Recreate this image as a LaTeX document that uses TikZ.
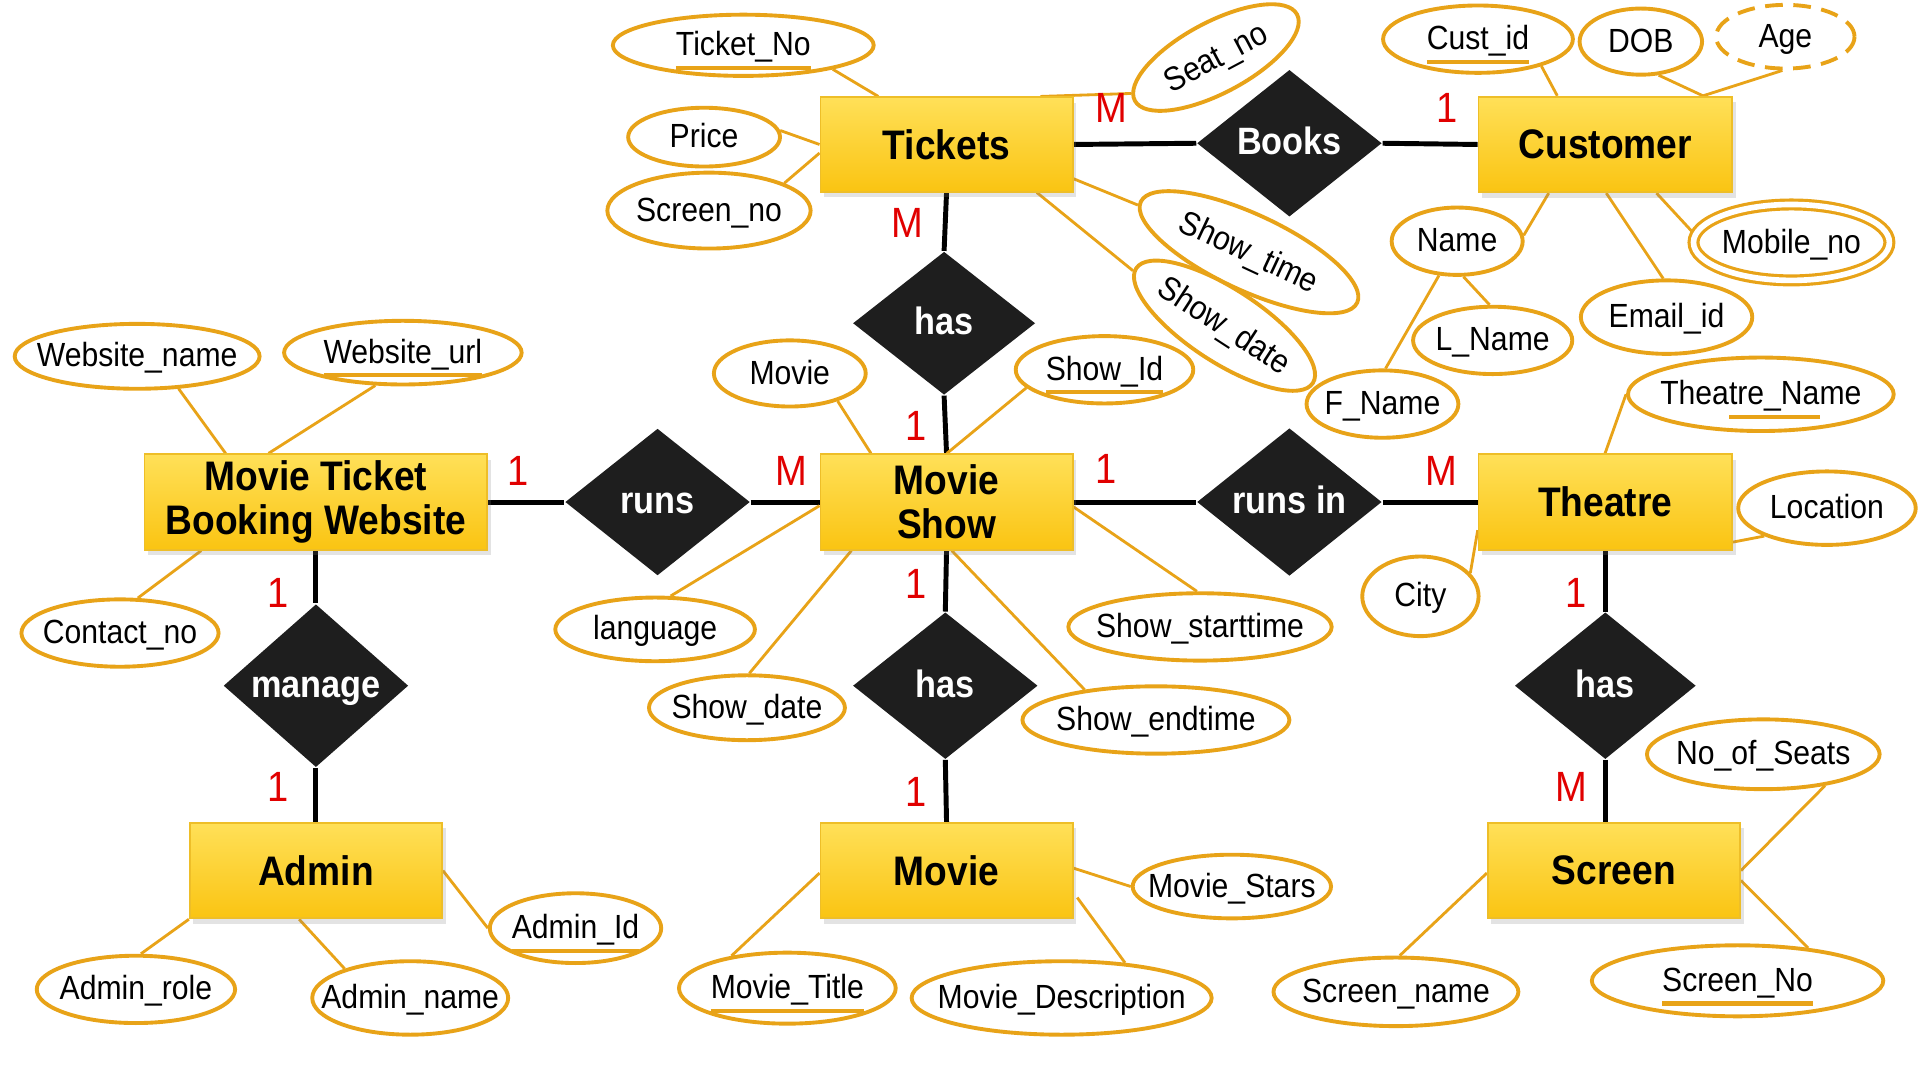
\documentclass[tikz,border=0pt]{standalone}
\usepackage{fontspec}
\setmainfont{Liberation Sans}[FakeStretch=0.9]
\usetikzlibrary{shapes.geometric,shadows,calc}
\pgfdeclarelayer{background}
\pgfsetlayers{background,main}
\definecolor{attrc}{RGB}{232,163,24}
\definecolor{enttop}{RGB}{255,224,88}
\definecolor{entbot}{RGB}{250,196,18}
\definecolor{entdraw}{RGB}{238,190,40}
\definecolor{relc}{RGB}{30,30,30}
\definecolor{cardc}{RGB}{225,0,0}
\newcommand\pxu{0.3472pt}
\newcommand\kul[1]{\setbox0=\hbox{#1}\rlap{\color{attrc}\rule[-4pt]{\wd0}{1.2pt}}\box0}
\tikzset{
  attr/.style 2 args={ellipse, draw=attrc, line width=1.1pt, fill=white,
    minimum width=#1*\pxu, minimum height=#2*\pxu, inner xsep=-40pt, inner ysep=0pt,
    text height=7.5pt, text depth=1.5pt,
    font=\fontsize{9.5}{11}\selectfont},
  ent/.style 2 args={rectangle, top color=enttop, bottom color=entbot, draw=entdraw,
    line width=0.5pt, minimum width=#1*\pxu, minimum height=#2*\pxu, inner sep=0pt,
    align=center, font=\bfseries\fontsize{11.7}{12.6}\selectfont,
    drop shadow={shadow xshift=1pt, shadow yshift=-1.5pt, opacity=0.22}},
  rel/.style={diamond, fill=relc, minimum width=151*\pxu, minimum height=120*\pxu,
    inner sep=0pt, text=white, text height=8pt, text depth=1.5pt,
    font=\bfseries\fontsize{10.8}{12}\selectfont},
  card/.style={text=cardc, font=\fontsize{12}{12}\selectfont, inner sep=0pt},
  relline/.style={line width=1.4pt, black},
  attrline/.style={line width=0.8pt, attrc},
  dbl/.style={double=white, double distance=1.6pt, line width=0.9pt},
}
\begin{document}
\begin{tikzpicture}[x=0.3472pt, y=-0.3472pt]
\useasboundingbox (0,0) rectangle (1568,882);

% entities
\node[ent={206}{77}] (tk) at (773,118) {Tickets};
\node[ent={207}{78}] (cu) at (1311,118) {Customer};
\node[ent={280}{78}] (mw) at (258,410) {Movie Ticket\\Booking Website};
\node[ent={206}{78}] (ms) at (773,410) {Movie\\Show};
\node[ent={207}{78}] (th) at (1311,410) {Theatre};
\node[ent={206}{78}] (ad) at (258,711) {Admin};
\node[ent={206}{78}] (mv) at (773,711) {Movie};
\node[ent={206}{78}] (sc) at (1318,711) {Screen};

% relationships
\node[rel] (books) at (1053,117) {Books};
\node[rel, minimum height=117*\pxu, minimum width=149*\pxu] (has1) at (771,264) {has};
\node[rel] (runs) at (537,410) {runs};
\node[rel] (runsin) at (1053,410) {runs in};
\node[rel] (manage) at (258,560) {manage};
\node[rel] (has2) at (772,560) {has};
\node[rel, minimum width=148*\pxu] (has3) at (1311,560) {has};

% attributes
\node[attr={213}{50}] (tno) at (607,37) {\kul{Ticket\_No}};
\node[attr={124}{48}] (price) at (575,112) {Price};
\node[attr={166}{62}] (scrno) at (579,172) {Screen\_no};
\node[attr={150}{58}, rotate=28] (seat) at (993,47) {Seat\_no};
\node[attr={195}{62}, rotate=-25] (stime) at (1020,206) {Show\_time};
\node[attr={172}{60}, rotate=-33] (sdate1) at (1000,266) {Show\_date};
\node[attr={155}{55}] (cid) at (1207,32) {\kul{Cust\_id}};
\node[attr={100}{54}] (dob) at (1340,34) {DOB};
\node[attr={113}{52}, dash pattern=on 5pt off 3pt] (age) at (1458,30) {Age};
\node[attr={107}{55}] (name) at (1190,197) {Name};
\node[attr={130}{55}] (lname) at (1219,278) {L\_Name};
\node[attr={124}{55}] (fname) at (1129,330) {F\_Name};
\node[attr={140}{60}] (email) at (1361,259) {Email\_id};
\node[attr={160}{62}, dbl] (mob) at (1463,198) {Mobile\_no};
\node[attr={200}{53}] (wname) at (112,291) {Website\_name};
\node[attr={194}{52}] (wurl) at (329,288) {\kul{Website\_url}};
\node[attr={161}{55}] (cno) at (98,517) {Contact\_no};
\node[attr={124}{54}] (mattr) at (645,305) {Movie};
\node[attr={145}{55}] (sid) at (902,302) {\kul{Show\_Id}};
\node[attr={163}{52}] (lang) at (535,514) {language};
\node[attr={160}{53}] (sdate2) at (610,578) {Show\_date};
\node[attr={215}{55}] (sst) at (980,512) {Show\_starttime};
\node[attr={218}{55}] (set) at (944,588) {Show\_endtime};
\node[attr={217}{60}] (tname) at (1438,322) {Thea\kul{tre\_Na}me};
\node[attr={145}{60}] (loc) at (1492,415) {Location};
\node[attr={95}{65}] (city) at (1160,487) {City};
\node[attr={190}{57}] (seats) at (1440,616) {No\_of\_Seats};
\node[attr={200}{56}] (scname) at (1140,810) {Screen\_name};
\node[attr={238}{58}] (scno) at (1419,801) {\kul{Screen\_No}};
\node[attr={140}{57}] (aid) at (470,758) {\kul{Admin\_Id}};
\node[attr={162}{55}] (arole) at (111,808) {Admin\_role};
\node[attr={160}{60}] (aname) at (335,815) {Admin\_name};
\node[attr={177}{58}] (mtitle) at (643,807) {\kul{Movie\_Title}};
\node[attr={245}{60}] (mdesc) at (867,815) {Movie\_Description};
\node[attr={162}{52}] (mstars) at (1006,724) {Movie\_Stars};

% cardinalities
\node[card] (c1) at (908,88) {M};
\node[card] (c2) at (1182,88) {1};
\node[card] (c3) at (741,182) {M};
\node[card] (c4) at (748,348) {1};
\node[card] (c5) at (423,385) {1};
\node[card] (c6) at (646,385) {M};
\node[card] (c7) at (903,383) {1};
\node[card] (c8) at (1177,385) {M};
\node[card] (c9) at (227,484) {1};
\node[card] (c10) at (227,643) {1};
\node[card] (c11) at (748,477) {1};
\node[card] (c12) at (748,647) {1};
\node[card] (c13) at (1287,484) {1};
\node[card] (c14) at (1283,643) {M};

\begin{pgfonlayer}{background}
\fill[white] (0,0) rectangle (1568,882);
% relationship connectors
\draw[relline] (tk.east) -- (books.west);
\draw[relline] (books.east) -- (cu.west);
\draw[relline] (tk.south) -- (has1.north);
\draw[relline] (has1.south) -- (ms.north);
\draw[relline] (mw.east) -- (runs.west);
\draw[relline] (runs.east) -- (ms.west);
\draw[relline] (ms.east) -- (runsin.west);
\draw[relline] (runsin.east) -- (th.west);
\draw[relline] (mw.south) -- (manage.north);
\draw[relline] (manage.south) -- (ad.north);
\draw[relline] (ms.south) -- (has2.north);
\draw[relline] (has2.south) -- (mv.north);
\draw[relline] (th.south) -- (has3.north);
\draw[relline] (has3.south) -- (has3.south |- sc.north);
% attribute connectors
\draw[attrline] (tno.-15) -- ($(tk.north west)+(48,0)$);
\draw[attrline] (price.5) -- (tk.west);
\draw[attrline] (scrno.20) -- ($(tk.west)+(0,7)$);
\draw[attrline] (seat.175) -- ($(tk.north east)+(-27,0)$);
\draw[attrline] (stime.182) -- ($(tk.east)+(0,28)$);
\draw[attrline] (sdate1.182) -- ($(tk.south east)+(-30,0)$);
\draw[attrline] (cid.-23) -- ($(cu.north west)+(65,0)$);
\draw[attrline] (dob.-62) -- ($(cu.north west)+(184,0)$);
\draw[attrline] (age.-95) -- ($(cu.north west)+(184,0)$);
\draw[attrline] (name.5) -- ($(cu.south west)+(58,0)$);
\draw[attrline] (email.95) -- ($(cu.south west)+(105,0)$);
\draw[attrline] (mob.175) -- ($(cu.south west)+(146,0)$);
\draw[attrline] (name.-80) -- (lname.95);
\draw[attrline] (name.-118) -- (fname.85);
\draw[attrline] (wname.-38) -- ($(mw.north west)+(67,0)$);
\draw[attrline] (wurl.-130) -- ($(mw.north west)+(102,0)$);
\draw[attrline] (cno.63) -- ($(mw.south west)+(47,0)$);
\draw[attrline] (mattr.-30) -- ($(ms.north west)+(42,0)$);
\draw[attrline] (sid.-167) -- ($(ms.north west)+(104,0)$);
\draw[attrline] (lang.65) -- ($(ms.west)+(0,3)$);
\draw[attrline] (sdate2.86) -- ($(ms.south west)+(26,0)$);
\draw[attrline] (sst.95) -- ($(ms.east)+(0,4)$);
\draw[attrline] (set.157) -- ($(ms.south west)+(108,0)$);
\draw[attrline] (tname.180) -- ($(th.north west)+(104,0)$);
\draw[attrline] (loc.-156) -- ($(th.south east)+(0,-7)$);
\draw[attrline] (city.25) -- ($(th.west)+(0,23)$);
\draw[attrline] (seats.-27) -- (sc.east);
\draw[attrline] (scname.84) -- ($(sc.west)+(0,2)$);
\draw[attrline] (scno.25) -- ($(sc.east)+(0,8)$);
\draw[attrline] (aid.180) -- (ad.east);
\draw[attrline] (arole.82) -- (ad.south west);
\draw[attrline] (aname.156) -- ($(ad.south west)+(90,0)$);
\draw[attrline] (mtitle.150) -- ($(mv.west)+(0,2)$);
\draw[attrline] (mdesc.29) -- ($(mv.east)+(3,22)$);
\draw[attrline] (mstars.180) -- ($(mv.east)+(0,-2)$);
\end{pgfonlayer}
\end{tikzpicture}
\end{document}
